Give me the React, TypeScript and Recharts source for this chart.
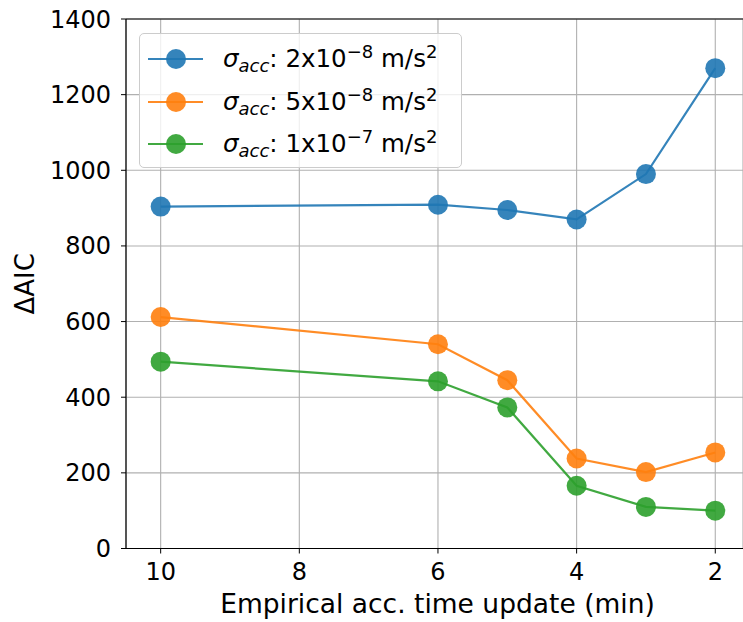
import { LineChart, Line, XAxis, YAxis, CartesianGrid, Label, ReferenceLine } from 'recharts';

const FONT = '"DejaVu Sans", sans-serif';

// update interval of the empirical acceleration (min)
const X_VALUES = [10, 6, 5, 4, 3, 2];
const SIGMA_2E8 = [904, 909, 895, 870, 990, 1270];
const SIGMA_5E8 = [612, 540, 445, 238, 202, 254];
const SIGMA_1E7 = [494, 442, 373, 166, 110, 100];

const X_TICKS = [10, 8, 6, 4, 2];
const Y_TICKS = [0, 200, 400, 600, 800, 1000, 1200, 1400];

const SERIES = [
  { key: 's2e8', mant: '2', exp: '−8', color: '#1f77b4', values: SIGMA_2E8 },
  { key: 's5e8', mant: '5', exp: '−8', color: '#ff7f0e', values: SIGMA_5E8 },
  { key: 's1e7', mant: '1', exp: '−7', color: '#2ca02c', values: SIGMA_1E7 },
];

const data = X_VALUES.map((x, i) => {
  const row: Record<string, number> = { x };
  SERIES.forEach((s) => (row[s.key] = s.values[i]));
  return row;
});

function LegendBox() {
  return (
    <div
      style={{
        position: 'absolute',
        left: 139,
        top: 33,
        width: 323,
        height: 135,
        boxSizing: 'border-box',
        border: '1px solid #cccccc',
        borderRadius: 5,
        background: 'rgba(255,255,255,0.8)',
        paddingTop: 4,
        fontFamily: FONT,
        fontSize: 24.5,
        color: '#000',
      }}
    >
      {SERIES.map((s) => (
        <div key={s.key} style={{ display: 'flex', alignItems: 'center', height: 42.5 }}>
          <svg width={75} height={24} style={{ marginLeft: 8, flex: 'none' }}>
            <line x1={0} y1={12} x2={55} y2={12} stroke={s.color} strokeWidth={2.2} strokeOpacity={0.9} />
            <circle cx={28} cy={12} r={10} fill={s.color} fillOpacity={0.9} />
          </svg>
          <span style={{ whiteSpace: 'nowrap', lineHeight: 1 }}>
            <i>σ</i>
            <sub style={{ fontSize: 18, fontStyle: 'italic', verticalAlign: -5 }}>acc</sub>
            {`: ${s.mant}x10`}
            <sup style={{ fontSize: 18, verticalAlign: 9 }}>{s.exp}</sup>
            {' m/s'}
            <sup style={{ fontSize: 18, verticalAlign: 9 }}>2</sup>
          </span>
        </div>
      ))}
    </div>
  );
}

export default function App() {
  return (
    <div style={{ position: 'absolute', left: 0, top: 0, width: 743, height: 622, background: '#fff' }}>
      <LineChart width={743} height={622} data={data} margin={{ top: 19, right: 0, bottom: 0, left: 0 }}>
        <CartesianGrid stroke="#b0b0b0" strokeWidth={1.1} />
        <XAxis
          dataKey="x"
          type="number"
          domain={[1.6, 10.5]}
          reversed
          allowDataOverflow
          ticks={X_TICKS}
          height={73.5}
          tickSize={5}
          tickMargin={9}
          tick={{ fill: '#000', fontSize: 24, fontFamily: FONT }}
          tickLine={{ stroke: '#000' }}
          axisLine={{ stroke: '#000', strokeWidth: 1.2 }}
        >
          <Label
            content={({ viewBox }: any) => (
              <text
                x={viewBox.x + viewBox.width / 2 + 3}
                y={viewBox.y + 64.5}
                textAnchor="middle"
                fontSize={26.5}
                fontFamily={FONT}
                fill="#000"
              >
                Empirical acc. time update (min)
              </text>
            )}
          />
        </XAxis>
        <YAxis
          type="number"
          domain={[0, 1400]}
          ticks={Y_TICKS}
          width={126}
          tickSize={5}
          tickMargin={10}
          tick={{ fill: '#000', fontSize: 24, fontFamily: FONT }}
          tickLine={{ stroke: '#000' }}
          axisLine={{ stroke: '#000', strokeWidth: 1.2 }}
        >
          <Label
            content={({ viewBox }: any) => {
              const cx = 25;
              const cy = viewBox.y + viewBox.height / 2;
              return (
                <text
                  x={cx}
                  y={cy}
                  transform={`rotate(-90 ${cx} ${cy})`}
                  textAnchor="middle"
                  dominantBaseline="central"
                  fontSize={26}
                  fontFamily={FONT}
                  fill="#000"
                >
                  ΔAIC
                </text>
              );
            }}
          />
        </YAxis>
        <ReferenceLine y={1400} stroke="#000" strokeWidth={1.2} />
        {SERIES.map((s) => (
          <Line
            key={s.key}
            dataKey={s.key}
            type="linear"
            stroke={s.color}
            strokeWidth={2.2}
            strokeOpacity={0.9}
            dot={{ r: 10, fill: s.color, fillOpacity: 0.9, stroke: 'none' }}
            activeDot={false}
            isAnimationActive={false}
          />
        ))}
      </LineChart>
      <LegendBox />
    </div>
  );
}
